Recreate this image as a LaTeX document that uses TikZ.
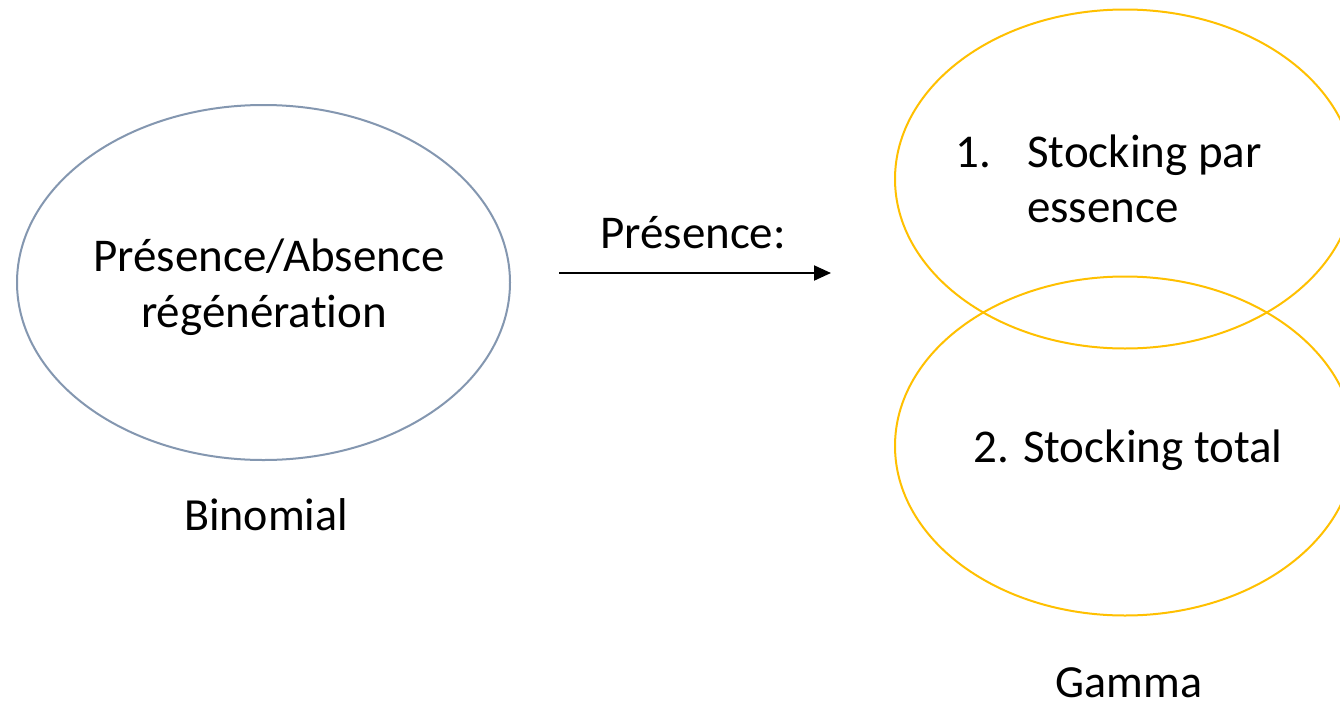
\documentclass[tikz,border=0pt]{standalone}
\usepackage{fontspec}
\setmainfont[Ligatures=NoCommon]{Carlito}
\usetikzlibrary{shapes.geometric,arrows.meta}
\definecolor{slateblue}{HTML}{8497B0}
\definecolor{amber}{HTML}{FFC000}
\tikzset{
  oval/.style={ellipse, draw, line width=2pt, inner sep=0pt},
  bigtext/.style={font=\fontsize{47}{56}\selectfont, inner sep=0pt, anchor=base},
  caption/.style={font=\fontsize{46}{54}\selectfont, inner sep=0pt, anchor=base},
  flow/.style={line width=2pt, -{Triangle[length=17pt,width=15pt]}}
}
\begin{document}
\begin{tikzpicture}[x=1pt,y=-1pt]
  \clip (0,0) rectangle (1340,704);
  \fill[white] (0,0) rectangle (1340,704);

  % left model: presence / absence
  \node[oval, draw=slateblue, minimum width=493pt, minimum height=355pt] (binom) at (263.5,282.5) {};
  \node[bigtext] (pa1) at (269,271) {Présence/Absence};
  \node[bigtext] (pa2) at (264,327) {régénération};
  \node[caption] (binlab) at (266,530) {Binomial};

  % arrow with its label
  \coordinate (arrS) at (559,273);
  \coordinate (arrE) at (831,273);
  \draw[flow] (arrS) -- (arrE);
  \node[bigtext] (pres) at (693,248) {Présence:};

  % right model: two overlapping ovals
  \node[oval, draw=amber, minimum width=460pt, minimum height=339pt] (stock1) at (1125,179) {};
  \node[oval, draw=amber, minimum width=460pt, minimum height=339pt] (stock2) at (1125,446) {};
  \node[bigtext, anchor=base west] (n1) at (955,167) {1.};
  \node[bigtext, anchor=base west] (s1a) at (1027,167) {Stocking par};
  \node[bigtext, anchor=base west] (s1b) at (1027,222) {essence};
  \node[bigtext] (s2) at (1128,462) {2. Stocking total};
  \node[caption] (gamlab) at (1129,697) {Gamma};
\end{tikzpicture}
\end{document}
